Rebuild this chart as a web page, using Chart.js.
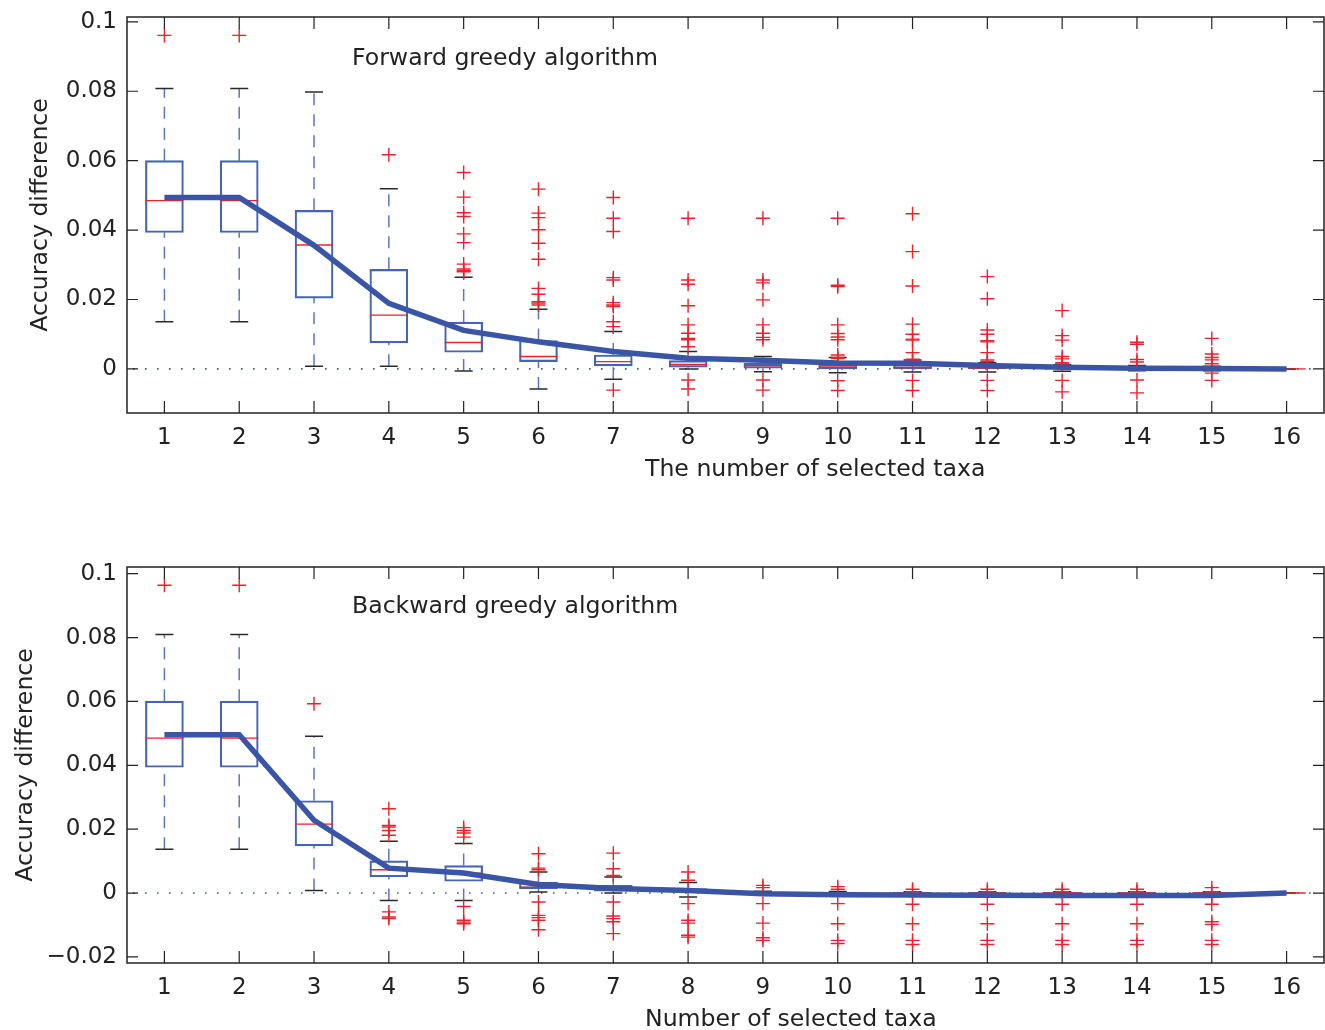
<!DOCTYPE html>
<html>
<head>
<meta charset="utf-8">
<script src="https://cdn.jsdelivr.net/npm/chart.js@4.4.0/dist/chart.umd.min.js"></script>
<style>
body { margin:0; background:#fff; width:1325px; height:1030px; position:relative; overflow:hidden; font-family:'DejaVu Sans', sans-serif; color:#222; }
.wrap { position:absolute; left:0; }
.wrap canvas { display:block; }
.lbl { position:absolute; font-size:23.6px; line-height:26px; white-space:nowrap; color:#222; }
</style>
</head>
<body>
<div class="wrap" style="top:0"><canvas id="fwd" width="1325" height="490"></canvas></div>
<div class="wrap" style="top:550px"><canvas id="bwd" width="1325" height="480"></canvas></div>
<div class="lbl" style="left:352px;top:44px">Forward greedy algorithm</div>
<div class="lbl" style="left:645px;top:455px">The number of selected taxa</div>
<div class="lbl" style="left:352px;top:592px">Backward greedy algorithm</div>
<div class="lbl" style="left:645px;top:1005px">Number of selected taxa</div>
<script>
/*** categories */
const taxa = ['1','2','3','4','5','6','7','8','9','10','11','12','13','14','15','16'];

/*** forward greedy (top) */
const fwdLow  = [0.0136,0.0136,0.0008,0.0008,-0.0006,-0.0058,-0.0030,0.0000,-0.0008,-0.0011,-0.0009,-0.0009,-0.0007,-0.0005,-0.0005,0];
const fwdQ1   = [0.0393,0.0393,0.0204,0.0075,0.0048,0.0021,0.0009,0.0005,0.0002,0.0000,0.0000,0.0000,0.0000,0.0000,0.0000,0];
const fwdMed  = [0.0485,0.0485,0.0357,0.0155,0.0076,0.0036,0.0021,0.0013,0.0009,0.0006,0.0004,0.0003,0.0002,0.0001,0.0001,0];
const fwdQ3   = [0.0600,0.0600,0.0457,0.0287,0.0135,0.0082,0.0040,0.0024,0.0016,0.0014,0.0012,0.0008,0.0006,0.0004,0.0003,0];
const fwdHigh = [0.0808,0.0808,0.0798,0.0519,0.0264,0.0172,0.0108,0.0050,0.0036,0.0033,0.0026,0.0018,0.0012,0.0010,0.0008,0];
const fwdMean = [0.0494,0.0494,0.0356,0.0189,0.0111,0.0078,0.0050,0.0031,0.0025,0.0017,0.0016,0.0010,0.0005,0.0002,0.0001,0];
const fwdOut = [
  [0.0961],
  [0.0961],
  [],
  [0.0617],
  [0.0566,0.0495,0.0450,0.0439,0.0389,0.0364,0.0302,0.0288,0.0283,0.0280],
  [0.0518,0.0449,0.0436,0.0401,0.0362,0.0316,0.0232,0.0215,0.0194,0.0190,0.0184],
  [0.0494,0.0434,0.0396,0.0263,0.0256,0.0191,0.0184,0.0180,0.0136,0.0122,-0.0061],
  [0.0434,0.0256,0.0244,0.0182,0.0127,0.0103,0.0088,0.0084,0.0064,-0.0032,-0.0058],
  [0.0434,0.0256,0.0248,0.0199,0.0127,0.0103,0.0091,0.0084,-0.0032,-0.0061],
  [0.0434,0.0241,0.0237,0.0127,0.0102,0.0092,0.0084,0.0040,0.0033,0.0030,-0.0034,-0.0062],
  [0.0447,0.0338,0.0239,0.0129,0.0100,0.0086,0.0083,0.0047,0.0028,0.0025,-0.0033,-0.0062],
  [0.0266,0.0202,0.0112,0.0100,0.0081,0.0078,0.0047,0.0026,0.0022,0.0016,-0.0033,-0.0062],
  [0.0168,0.0096,0.0083,0.0036,0.0029,0.0018,0.0014,-0.0033,-0.0066],
  [0.0077,0.0071,0.0027,0.0020,-0.0032,-0.0069],
  [0.0088,0.0043,0.0033,0.0026,0.0015,-0.0012,-0.0033],
  []
];
const fwdTicks = [0, 0.02, 0.04, 0.06, 0.08, 0.1];
const fwdRange = [-0.0127, 0.1014];

/*** backward greedy (bottom) */
const bwdLow  = [0.0137,0.0137,0.0008,-0.0023,-0.0023,0.0003,0.0000,-0.0012,-0.0004,-0.0004,-0.0004,-0.0004,-0.0004,-0.0004,-0.0004,0];
const bwdQ1   = [0.0394,0.0394,0.0148,0.0051,0.0037,0.0014,0.0006,0.0005,-0.0002,-0.0002,-0.0002,-0.0002,-0.0002,-0.0002,-0.0002,0];
const bwdMed  = [0.0485,0.0485,0.0216,0.0073,0.0062,0.0018,0.0012,0.0008,0.0000,0.0000,0.0000,0.0000,0.0000,0.0000,0.0000,0];
const bwdQ3   = [0.0601,0.0601,0.0289,0.0101,0.0086,0.0034,0.0024,0.0014,0.0002,0.0002,0.0002,0.0002,0.0002,0.0002,0.0002,0];
const bwdHigh = [0.0810,0.0810,0.0491,0.0162,0.0155,0.0066,0.0050,0.0033,0.0006,0.0005,0.0004,0.0004,0.0004,0.0004,0.0004,0];
const bwdMean = [0.0496,0.0496,0.0228,0.0078,0.0063,0.0027,0.0014,0.0008,-0.0002,-0.0005,-0.0006,-0.0007,-0.0008,-0.0008,-0.0008,0];
const bwdOut = [
  [0.0964],
  [0.0964],
  [0.0593],
  [0.0264,0.0212,0.0207,0.0196,0.0181,-0.0059,-0.0075,-0.0080],
  [0.0205,0.0196,0.0188,0.0175,-0.0042,-0.0085,-0.0091,-0.0096],
  [0.0123,0.0078,0.0073,-0.0028,-0.0070,-0.0077,-0.0085,-0.0115],
  [0.0125,0.0076,0.0055,-0.0028,-0.0072,-0.0080,-0.0090,-0.0127],
  [0.0066,0.0040,-0.0033,-0.0085,-0.0094,-0.0132,-0.0138],
  [0.0024,0.0017,-0.0033,-0.0094,-0.0140,-0.0148],
  [0.0020,0.0012,-0.0033,-0.0096,-0.0148,-0.0158],
  [0.0012,0.0004,-0.0035,-0.0096,-0.0148,-0.0161],
  [0.0012,0.0004,-0.0035,-0.0096,-0.0148,-0.0161],
  [0.0012,0.0004,-0.0035,-0.0096,-0.0148,-0.0161],
  [0.0012,0.0004,-0.0035,-0.0096,-0.0148,-0.0161],
  [0.0017,0.0004,-0.0012,-0.0035,-0.0090,-0.0098,-0.0148,-0.0161],
  []
];
const bwdTicks = [-0.02, 0, 0.02, 0.04, 0.06, 0.08, 0.1];
const bwdRange = [-0.0219, 0.1021];

/*** colours */
const meanBlue = '#3a55a5';
const boxBlue = '#4565b4';
const whiskBlue = '#5a76bd';
const red = '#e8232b';
const capBlack = '#2a2a2a';
const font = "'DejaVu Sans', sans-serif";

/*** boxplot pieces as datasets */
function boxDatasets(low, q1, med, q3, high, mean, outs) {
  const whisk = [];
  const caps = [];
  taxa.forEach((t, i) => {
    whisk.push({x: t, y: q3[i]}, {x: t, y: high[i]}, {x: t, y: null});
    whisk.push({x: t, y: low[i]}, {x: t, y: q1[i]}, {x: t, y: null});
    caps.push({x: t, y: high[i]}, {x: t, y: low[i]});
  });
  const meds = taxa.map((t, i) => ({x: t, y: med[i]}));
  const pts = [];
  outs.forEach((arr, i) => arr.forEach(v => pts.push({x: taxa[i], y: v})));

  return [
    { type: 'line', data: mean, borderColor: meanBlue, borderWidth: 5.5, pointRadius: 0, order: 0 },
    { type: 'line', data: pts, showLine: false, pointStyle: 'cross', pointRadius: 7,
      pointBorderColor: red, pointBorderWidth: 1.4, order: 1 },
    { type: 'line', data: meds, showLine: false, pointStyle: 'line', pointRadius: 19,
      pointBorderColor: red, pointBorderWidth: 1.4, order: 2 },
    { type: 'bar', data: taxa.map((t, i) => [q1[i], q3[i]]), backgroundColor: 'rgba(0,0,0,0)',
      borderColor: boxBlue, borderWidth: 1.5, borderSkipped: false, barThickness: 38, order: 3 },
    { type: 'line', data: caps, showLine: false, pointStyle: 'line', pointRadius: 9,
      pointBorderColor: capBlack, pointBorderWidth: 1.5, order: 4 },
    { type: 'line', data: whisk, borderColor: whiskBlue, borderWidth: 1.5, borderDash: [12, 9],
      pointRadius: 0, spanGaps: false, order: 5 }
  ];
}

/*** frame, inward ticks and dotted zero line (matlab look) */
const frame = {
  id: 'frame',
  beforeDatasetsDraw(chart) {
    const {ctx, chartArea: a, scales: {y}} = chart;
    const y0 = y.getPixelForValue(0);
    ctx.save();
    ctx.strokeStyle = meanBlue;
    ctx.lineWidth = 1.6;
    ctx.setLineDash([1.6, 10.4]);
    ctx.beginPath();
    ctx.moveTo(a.left + 6, y0);
    ctx.lineTo(a.right - 4, y0);
    ctx.stroke();
    ctx.restore();
  },
  afterDraw(chart) {
    const {ctx, chartArea: a, scales: {x, y}} = chart;
    ctx.save();
    ctx.strokeStyle = '#222';
    ctx.lineWidth = 1.5;
    ctx.strokeRect(a.left, a.top, a.right - a.left, a.bottom - a.top);
    ctx.lineWidth = 1.2;
    ctx.beginPath();
    y.ticks.forEach(t => {
      const p = y.getPixelForValue(t.value);
      ctx.moveTo(a.left, p); ctx.lineTo(a.left + 11, p);
      ctx.moveTo(a.right, p); ctx.lineTo(a.right - 11, p);
    });
    x.ticks.forEach((t, i) => {
      const p = x.getPixelForTick(i);
      ctx.moveTo(p, a.top); ctx.lineTo(p, a.top + 12);
      ctx.moveTo(p, a.bottom); ctx.lineTo(p, a.bottom - 12);
    });
    ctx.stroke();
    ctx.restore();
  }
};

function fmt(v) {
  if (v === 0) return '0';
  return v < 0 ? '\u2212' + String(Math.abs(v)) : String(v);
}

function noPad(s) {
  s.paddingLeft = 0; s.paddingRight = 0; s.paddingTop = 0; s.paddingBottom = 0;
}

function makeChart(id, sets, ticks, range, xh, titlePad) {
  return new Chart(document.getElementById(id), {
    type: 'bar',
    data: { labels: taxa, datasets: sets },
    plugins: [frame],
    options: {
      responsive: false,
      animation: false,
      events: [],
      layout: { autoPadding: false, padding: { top: 17, right: 1, left: 0, bottom: 0 } },
      plugins: { legend: { display: false }, tooltip: { enabled: false } },
      scales: {
        x: {
          type: 'category',
          offset: true,
          grid: { display: false, drawTicks: false },
          border: { display: false },
          ticks: { color: '#222', font: { family: font, size: 23 }, padding: 11, maxRotation: 0 },
          afterFit: s => { s.height = xh; noPad(s); }
        },
        y: {
          min: range[0],
          max: range[1],
          grid: { display: false, drawTicks: false },
          border: { display: false },
          afterBuildTicks: s => { s.ticks = ticks.map(v => ({ value: v })); },
          ticks: { color: '#222', font: { family: font, size: 23 }, padding: 10, callback: v => fmt(v) },
          title: { display: true, text: 'Accuracy difference', color: '#222',
                   font: { family: font, size: 23.6 }, padding: { top: titlePad, bottom: 0 } },
          afterFit: s => { s.width = 127; noPad(s); }
        }
      }
    }
  });
}

makeChart('fwd', boxDatasets(fwdLow, fwdQ1, fwdMed, fwdQ3, fwdHigh, fwdMean, fwdOut), fwdTicks, fwdRange, 77, 27);
makeChart('bwd', boxDatasets(bwdLow, bwdQ1, bwdMed, bwdQ3, bwdHigh, bwdMean, bwdOut), bwdTicks, bwdRange, 67, 12);
</script>
</body>
</html>
